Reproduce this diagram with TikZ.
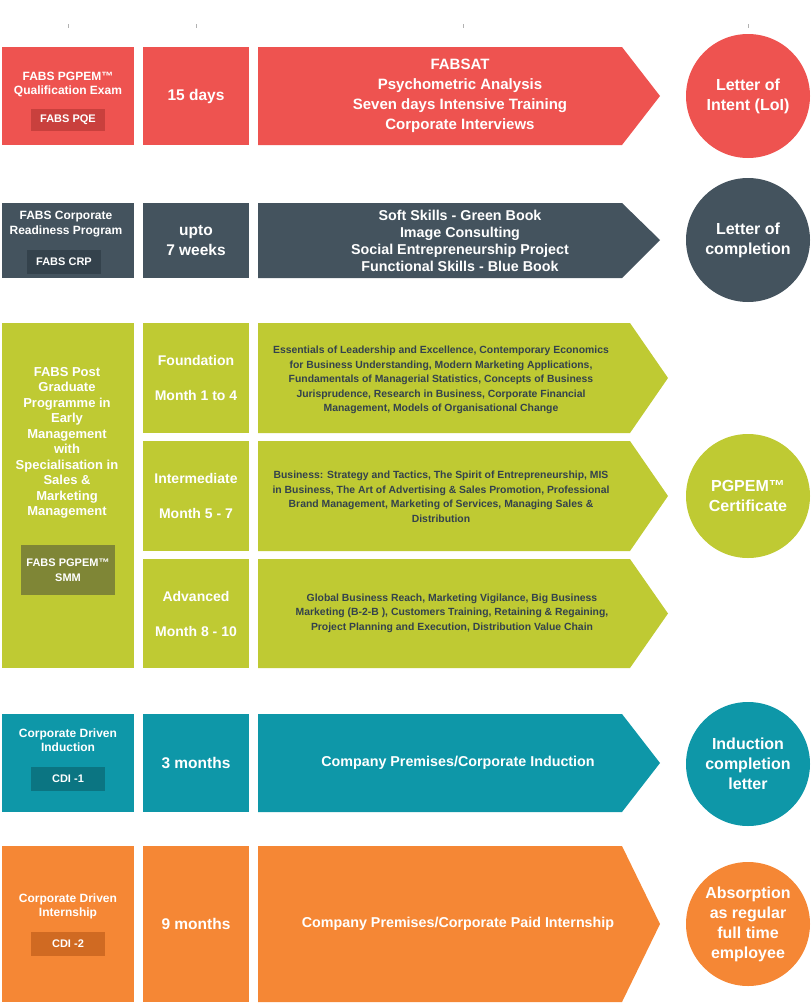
\documentclass[tikz,border=0pt]{standalone}
\usepackage{fontspec}
\setmainfont{Liberation Sans}
\begin{document}
\begin{tikzpicture}[x=1pt,y=-1pt,
 box/.style={anchor=north west,inner sep=0,outer sep=0,text=white,font=\bfseries,align=center},
 cir/.style={circle,minimum size=124pt,inner sep=0,text=white,font=\bfseries\fontsize{16}{20}\selectfont,align=center},
 badge/.style={text=white,font=\bfseries\fontsize{11}{13}\selectfont,inner sep=0}]
\definecolor{cr}{HTML}{EE5350}\definecolor{crd}{HTML}{C9403D}
\definecolor{cs}{HTML}{44535E}\definecolor{csd}{HTML}{34424C}
\definecolor{cg}{HTML}{BFCA33}\definecolor{cgd}{HTML}{7F8636}
\definecolor{ct}{HTML}{0E97A8}\definecolor{ctd}{HTML}{0B7582}
\definecolor{co}{HTML}{F58735}\definecolor{cod}{HTML}{D06A22}
\useasboundingbox (0,0) rectangle (811,1004);
\foreach \x in {68,196,463,748} \draw[gray!60,line width=0.5pt] (\x,24) -- (\x,28);
% row 1
\fill[cr] (2,47) rectangle (134,145);
\node[badge,fill=crd,minimum width=74pt,minimum height=22pt] (b1) at (68,120) {FABS PQE};
\node[box,anchor=center,font=\bfseries\fontsize{12}{14}\selectfont] (t1) at (68,84) {FABS PGPEM™\\Qualification Exam};
\node[box,fill=cr,minimum width=106pt,minimum height=98pt,font=\bfseries\fontsize{15.5}{18}\selectfont] (d1) at (143,47) {15 days};
\fill[cr] (258,47) -- (622,47) -- (660,96) -- (622,145) -- (258,145) -- cycle;
\node[box,anchor=center,font=\bfseries\fontsize{15}{20}\selectfont] (a1) at (460,96) {FABSAT\\Psychometric Analysis\\Seven days Intensive Training\\Corporate Interviews};
\node[cir,fill=cr] (c1) at (748,96) {Letter of\\Intent (LoI)};
% row 2
\fill[cs] (2,203) rectangle (134,278);
\node[badge,fill=csd,minimum width=74pt,minimum height=24pt] (b2) at (64,262) {FABS CRP};
\node[box,anchor=center,font=\bfseries\fontsize{12}{15}\selectfont] (t2) at (66,224) {FABS Corporate\\Readiness Program};
\node[box,fill=cs,minimum width=106pt,minimum height=75pt,font=\bfseries\fontsize{15.5}{20}\selectfont] (d2) at (143,203) {upto\\7 weeks};
\fill[cs] (258,203) -- (622,203) -- (660,240) -- (622,278) -- (258,278) -- cycle;
\node[box,anchor=center,font=\bfseries\fontsize{14.3}{17}\selectfont] (a2) at (460,241) {Soft Skills - Green Book\\Image Consulting\\Social Entrepreneurship Project\\Functional Skills - Blue Book};
\node[cir,fill=cs] (c2) at (748,240) {Letter of\\completion};
% row 3
\fill[cg] (2,323) rectangle (134,668);
\node[box,anchor=center,font=\bfseries\fontsize{13}{15.5}\selectfont] (t3) at (67,443) {FABS Post\\Graduate\\Programme in\\Early\\Management\\with\\Specialisation in\\Sales \&\\Marketing\\Management};
\node[badge,fill=cgd,minimum width=94pt,minimum height=50pt,align=center,font=\bfseries\fontsize{11}{15}\selectfont] (b3) at (68,570) {FABS PGPEM™\\SMM};
\foreach \ya/\h/\ttl/\mo/\nm in {323/110/Foundation/Month 1 to 4/f,441/110/Intermediate/Month 5 - 7/i,559/109/Advanced/Month 8 - 10/a}{
 \node[box,fill=cg,minimum width=106pt,minimum height=\h pt,font=\bfseries\fontsize{14}{35}\selectfont] (m\nm) at (143,\ya) {\ttl\\\mo};
 \fill[cg] (258,\ya) -- (630,\ya) -- (668,\ya+\h/2) -- (630,\ya+\h) -- (258,\ya+\h) -- cycle;
}
\node[box,anchor=center,text=csd,font=\bfseries\fontsize{10.4}{14.5}\selectfont] (af) at (441,380) {Essentials of Leadership and Excellence, Contemporary Economics\\for Business Understanding, Modern Marketing Applications,\\Fundamentals of Managerial Statistics, Concepts of Business\\Jurisprudence, Research in Business, Corporate Financial\\Management, Models of Organisational Change};
\node[box,anchor=center,text=csd,font=\bfseries\fontsize{10.4}{14.5}\selectfont] (ai) at (441,497) {Business: Strategy and Tactics, The Spirit of Entrepreneurship, MIS\\in Business, The Art of Advertising \& Sales Promotion, Professional\\Brand Management, Marketing of Services, Managing Sales \&\\Distribution};
\node[box,anchor=center,text=csd,font=\bfseries\fontsize{10.4}{14.5}\selectfont] (aa) at (452,613) {Global Business Reach, Marketing Vigilance, Big Business\\Marketing (B-2-B ), Customers Training, Retaining \& Regaining,\\Project Planning and Execution, Distribution Value Chain};
\node[cir,fill=cg] (c3) at (748,496) {PGPEM™\\Certificate};
% row 4
\fill[ct] (2,714) rectangle (134,812);
\node[badge,fill=ctd,minimum width=74pt,minimum height=24pt] (b4) at (68,779) {CDI -1};
\node[box,anchor=center,font=\bfseries\fontsize{12}{14}\selectfont] (t4) at (68,740) {Corporate Driven\\Induction};
\node[box,fill=ct,minimum width=106pt,minimum height=98pt,font=\bfseries\fontsize{15.5}{18}\selectfont] (d4) at (143,714) {3 months};
\fill[ct] (258,714) -- (622,714) -- (660,763) -- (622,812) -- (258,812) -- cycle;
\node[box,anchor=center,font=\bfseries\fontsize{14.3}{17}\selectfont] (a4) at (458,763) {Company Premises/Corporate Induction};
\node[cir,fill=ct] (c4) at (748,764) {Induction\\completion\\letter};
% row 5
\fill[co] (2,846) rectangle (134,1002);
\node[badge,fill=cod,minimum width=74pt,minimum height=24pt] (b5) at (68,944) {CDI -2};
\node[box,anchor=center,font=\bfseries\fontsize{12}{14}\selectfont] (t5) at (68,906) {Corporate Driven\\Internship};
\node[box,fill=co,minimum width=106pt,minimum height=156pt,font=\bfseries\fontsize{15.5}{18}\selectfont] (d5) at (143,846) {9 months};
\fill[co] (258,846) -- (622,846) -- (660,924) -- (622,1002) -- (258,1002) -- cycle;
\node[box,anchor=center,font=\bfseries\fontsize{14.3}{17}\selectfont] (a5) at (458,924) {Company Premises/Corporate Paid Internship};
\node[cir,fill=co] (c5) at (748,924) {Absorption\\as regular\\full time\\employee};
\end{tikzpicture}
\end{document}
